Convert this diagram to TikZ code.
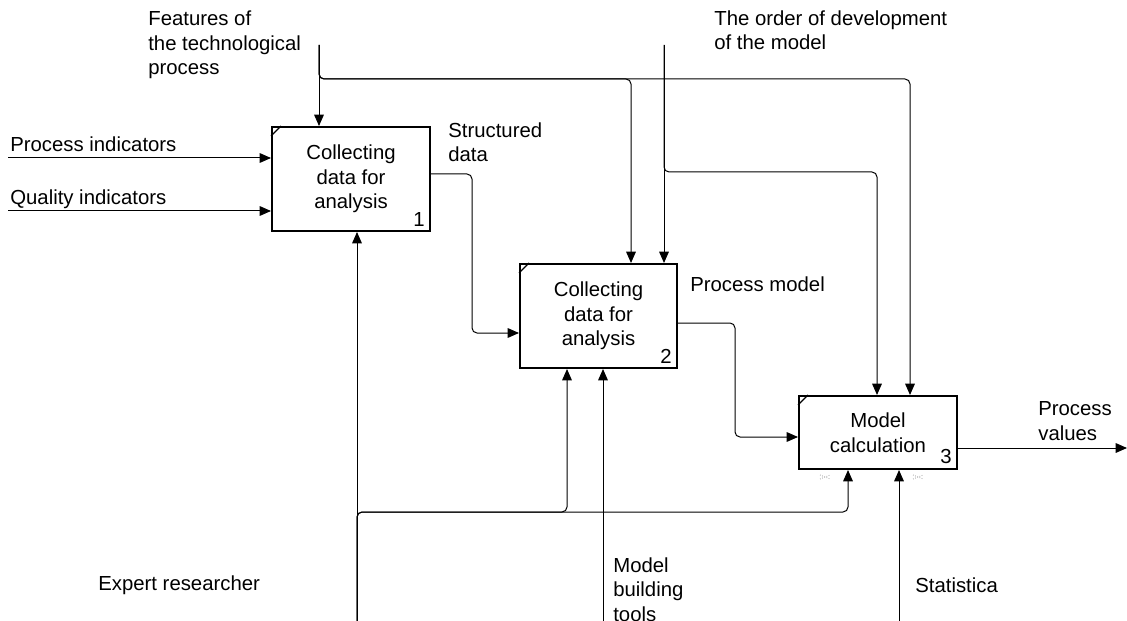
\documentclass[tikz,border=0pt]{standalone}
\usepackage{fontspec}
\setmainfont{Liberation Sans}
\usetikzlibrary{arrows.meta}

\begin{document}
\begin{tikzpicture}[x=0.6pt,y=-0.6pt,
        font=\fontsize{12.2}{14.7}\selectfont,
        act/.style={draw,line width=1.2pt,align=center,inner sep=0pt,minimum width=94.8pt},
        lbl/.style={anchor=base west,align=left,inner sep=0pt},
        num/.style={anchor=south east,inner sep=0pt},
        flow/.style={line width=0.6pt,rounded corners=3pt},
        arr/.style={flow,-{Triangle[length=6.8pt,width=5.8pt]}}
    ]
    \useasboundingbox (0,0) rectangle (1127,621);

    \node[act,minimum height=62.4pt] (a1) at (351,179) {Collecting\\data for\\analysis};
    \node[act,minimum height=62.4pt,minimum width=94.2pt] (a2) at (598.5,316) {Collecting\\data for\\analysis};
    \node[act,minimum height=43.8pt] (a3) at (878,432.5) {Model\\calculation};
    \foreach \n/\k in {a1/1,a2/2,a3/3}{
        \node[num] (\n-no) at ([shift={(-3.6pt,3.3pt)}]\n.south east) {\k};
        \draw[line width=0.8pt] ([yshift=-6pt]\n.north west) -- ([xshift=6pt]\n.north west);
    }

    % inputs
    \coordinate (i1) at (8,158);
    \coordinate (i2) at (8,211);
    \draw[arr] (i1) -- (i1 -| a1.west);
    \draw[arr] (i2) -- (i2 -| a1.west);
    \node[lbl] (pind) at (10,152) {Process indicators};
    \node[lbl] (qind) at (10,205) {Quality indicators};

    % controls
    \coordinate (c1) at (319,45);
    \coordinate (c2) at (664,45);
    \coordinate (k1) at (631,79);
    \coordinate (k2) at (910,79);
    \coordinate (k3) at (877,172);
    \draw[arr] (c1) -- (c1 |- a1.north);
    \draw[arr] (c1) |- (k1) -- (k1 |- a2.north);
    \draw[arr] (c1) |- (k2) -- (k2 |- a3.north);
    \draw[arr] (c2) -- (c2 |- a2.north);
    \draw[arr] (c2) |- (k3) -- (k3 |- a3.north);
    \node[lbl] (feat) at (148,75) {Features of\\the technological\\process};
    \node[lbl] (order) at (714,50) {The order of development\\of the model};

    % outputs
    \coordinate (o1) at (472,174);
    \coordinate (o1b) at (472,333);
    \coordinate (o2) at (735,323);
    \coordinate (o2b) at (735,437);
    \coordinate (o3) at (1127,448);
    \draw[arr] (a1.east |- o1) -- (o1) -- (o1b) -- (o1b -| a2.west);
    \draw[arr] (a2.east |- o2) -- (o2) -- (o2b) -- (o2b -| a3.west);
    \draw[arr] (a3.east |- o3) -- (o3);
    \node[lbl] (sdata) at (448,162) {Structured\\data};
    \node[lbl] (pmod) at (690,292) {Process model};
    \node[lbl] (pval) at (1038,440) {Process\\values};

    % mechanisms
    \coordinate (m1) at (357,624);
    \coordinate (m2) at (603,624);
    \coordinate (m3) at (899,624);
    \coordinate (n1) at (567,512);
    \coordinate (n2) at (848,512);
    \draw[arr] (m1) -- (m1 |- a1.south);
    \draw[arr] (m1) |- (n1) -- (n1 |- a2.south);
    \draw[arr] (m1) |- (n2) -- (n2 |- a3.south);
    \draw[arr] (m2) -- (m2 |- a2.south);
    \draw[arr] (m3) -- (m3 |- a3.south);
    \node[lbl] (expert) at (98,590) {Expert researcher};
    \node[lbl] (tools) at (613,621) {Model\\building\\tools};
    \node[lbl] (stat) at (915,592) {Statistica};

    \foreach \x in {825,918}
        \draw[gray,line width=0.4pt,densely dotted] (\x-5,475) -- (\x+5,479) (\x-5,479) -- (\x+5,475);
\end{tikzpicture}
\end{document}
